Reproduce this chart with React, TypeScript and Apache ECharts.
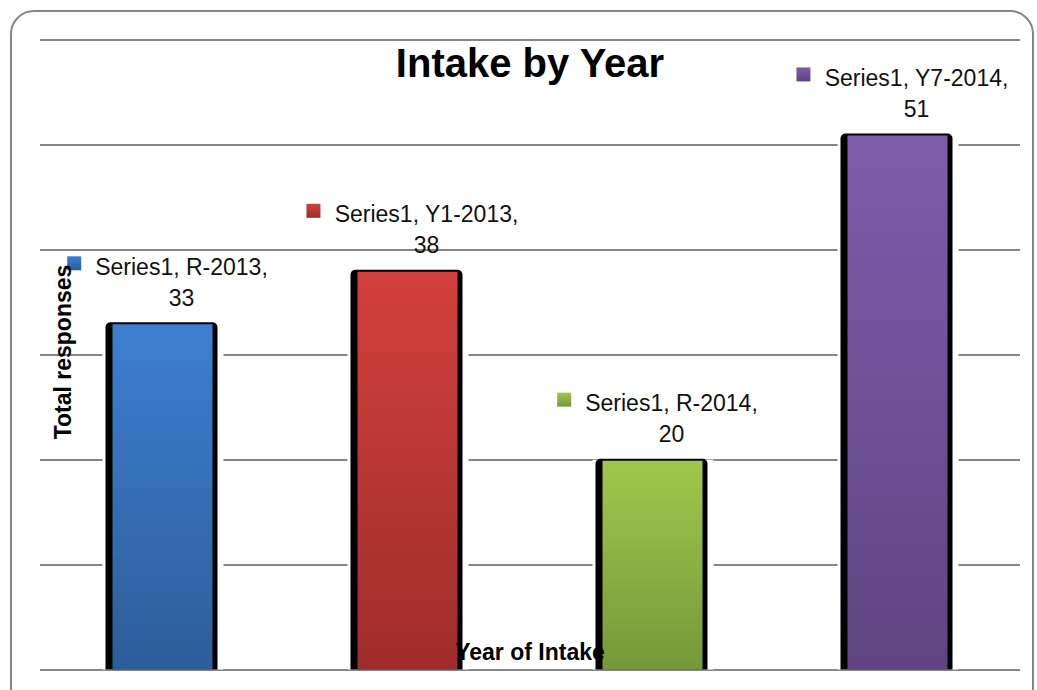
import React, { useEffect, useRef } from "react";
import * as echarts from "echarts";

const chartTitle = "Intake by Year";
const xAxisTitle = "Year of Intake";
const yAxisTitle = "Total responses";
const seriesName = "Series1";
const categories = ["R-2013", "Y1-2013", "R-2014", "Y7-2014"];
const values = [33, 38, 20, 51];
const topColors = ["#3D7FD0", "#D3403B", "#9FC74C", "#7F5CAB"];
const bottomColors = ["#2D5D9A", "#9E2C2A", "#76983A", "#5F4481"];
const yMin = 0;
const yMax = 60;
const yInterval = 10;

const FONT = '"Liberation Sans", Arial, sans-serif';
const LABEL_FONT = `23px ${FONT}`;

let measureCtx: CanvasRenderingContext2D | null = null;
function textWidth(t: string, font: string): number {
  if (!measureCtx) measureCtx = document.createElement("canvas").getContext("2d");
  if (!measureCtx) return t.length * 11;
  measureCtx.font = font;
  return measureCtx.measureText(t).width;
}

export default function App() {
  const ref = useRef<HTMLDivElement>(null);
  useEffect(() => {
    if (!ref.current) return;
    const chart = echarts.init(ref.current, undefined, { renderer: "svg" });
    const renderItem = (params: any, api: any) => {
      const idx = api.value(0);
      const v = api.value(1);
      const top = api.coord([idx, v]);
      const base = api.coord([idx, 0]);
      const cx = top[0];
      const ty = top[1];
      const by = base[1];
      const i = params.dataIndex;
      const line1 = `${seriesName}, ${categories[i]},`;
      const w = textWidth(line1, LABEL_FONT);
      const grad = new echarts.graphic.LinearGradient(0, 0, 0, 1, [
        { offset: 0, color: topColors[i] },
        { offset: 1, color: bottomColors[i] },
      ]);
      const mgrad = new echarts.graphic.LinearGradient(0, 0, 0, 1, [
        { offset: 0, color: topColors[i] },
        { offset: 1, color: bottomColors[i] },
      ]);
      return {
        type: "group",
        children: [
          { type: "rect", shape: { x: cx - 60, y: ty, width: 121, height: by - ty }, style: { fill: "#ffffff" } },
          { type: "rect", shape: { x: cx - 57, y: ty - 1, width: 112, height: by - ty + 1, r: [5, 5, 0, 0] }, style: { fill: "#000000" } },
          { type: "rect", shape: { x: cx - 50, y: ty + 1, width: 100, height: by - ty - 1 }, style: { fill: grad } },
          { type: "rect", shape: { x: cx + 19 - w / 2 - 28, y: ty - 67, width: 14, height: 14 }, style: { fill: mgrad } },
          { type: "text", x: cx + 19, y: ty - 56.5, style: { text: line1, font: LABEL_FONT, fill: "#111", align: "center", verticalAlign: "middle" } },
          { type: "text", x: cx + 19, y: ty - 25.5, style: { text: String(values[i]), font: LABEL_FONT, fill: "#111", align: "center", verticalAlign: "middle" } },
        ],
      };
    };
    const option: any = {
      animation: false,
      grid: { left: 40, right: 17, top: 40, bottom: 20.5 },
      xAxis: {
        type: "category",
        data: categories,
        axisLine: { show: false },
        axisTick: { show: false },
        axisLabel: { show: false },
        splitLine: { show: false },
      },
      yAxis: {
        type: "value",
        min: yMin,
        max: yMax,
        interval: yInterval,
        axisLine: { show: false },
        axisTick: { show: false },
        axisLabel: { show: false },
        splitLine: { lineStyle: { color: "#868686", width: 2 } },
      },
      series: [
        {
          type: "custom",
          name: seriesName,
          data: categories.map((c, i) => [i, values[i]]),
          encode: { x: 0, y: 1 },
          renderItem,
          z: 2,
        },
      ],
      graphic: [
        {
          type: "rect",
          shape: { x: 11, y: 11, width: 1022, height: 720, r: 23 },
          style: { fill: "none", stroke: "#868686", lineWidth: 2 },
          z: 0,
          silent: true,
        },
        {
          type: "text",
          x: 530,
          y: 63,
          style: { text: chartTitle, font: `bold 40px ${FONT}`, fill: "#000", textAlign: "center", textVerticalAlign: "middle" },
          z: 10,
        },
        {
          type: "text",
          x: 63,
          y: 352,
          rotation: Math.PI / 2,
          style: { text: yAxisTitle, font: `bold 23px ${FONT}`, fill: "#000", textAlign: "center", textVerticalAlign: "middle" },
          z: 10,
        },
        {
          type: "text",
          x: 530,
          y: 652,
          style: { text: xAxisTitle, font: `bold 23px ${FONT}`, fill: "#000", textAlign: "center", textVerticalAlign: "middle" },
          z: 10,
        },
      ],
    };
    chart.setOption(option);
    return () => chart.dispose();
  }, []);
  return (
    <div
      ref={ref}
      style={{ position: "fixed", left: 0, top: 0, width: 1037, height: 690, background: "#ffffff" }}
    />
  );
}
